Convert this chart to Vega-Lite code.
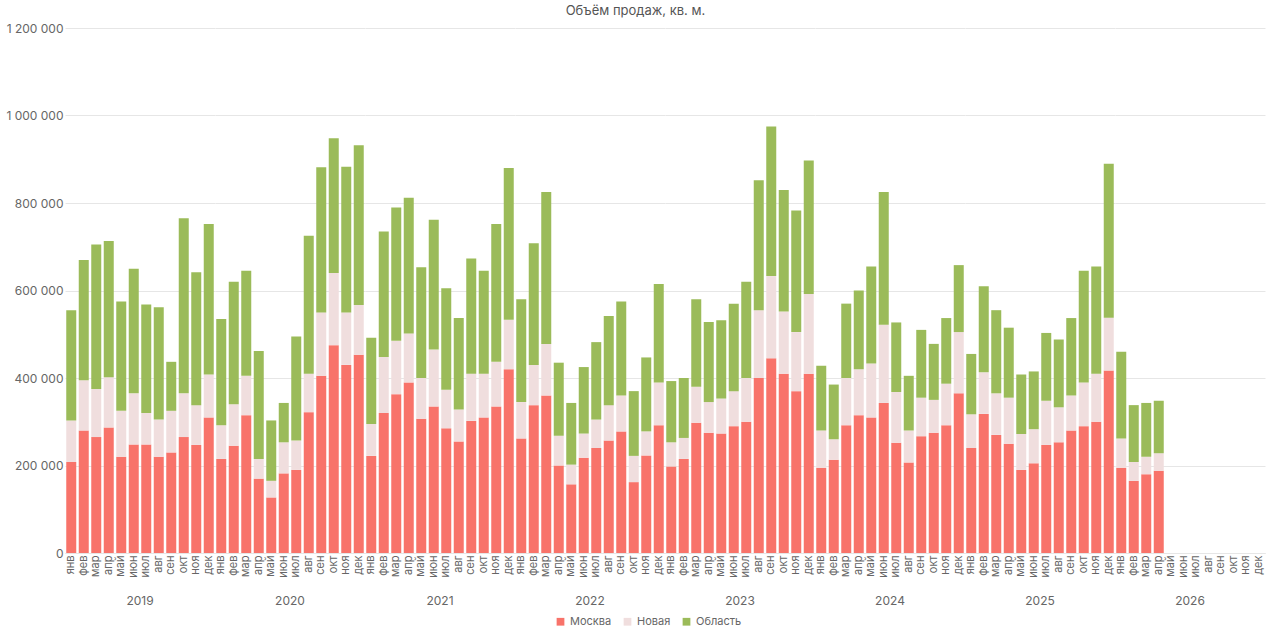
{
  "$schema": "https://vega.github.io/schema/vega-lite/v6.json",
  "title": {"text": "Объём продаж, кв. м.", "anchor": "middle", "fontSize": 13, "fontWeight": "normal", "color": "#555", "font": "Inter"},
  "config": {"font": "Inter", "view": {"stroke": null}},
  "data": {"values": [
    {"year": 2019, "m": "янв", "Москва": 208000, "Новая": 95000, "Область": 252000},
    {"year": 2019, "m": "фев", "Москва": 280000, "Новая": 115000, "Область": 275000},
    {"year": 2019, "m": "мар", "Москва": 265000, "Новая": 110000, "Область": 330000},
    {"year": 2019, "m": "апр", "Москва": 287000, "Новая": 115000, "Область": 311000},
    {"year": 2019, "m": "май", "Москва": 220000, "Новая": 105000, "Область": 250000},
    {"year": 2019, "m": "июн", "Москва": 248000, "Новая": 117000, "Область": 285000},
    {"year": 2019, "m": "июл", "Москва": 248000, "Новая": 72000, "Область": 248000},
    {"year": 2019, "m": "авг", "Москва": 220000, "Новая": 85000, "Область": 257000},
    {"year": 2019, "m": "сен", "Москва": 230000, "Новая": 95000, "Область": 112000},
    {"year": 2019, "m": "окт", "Москва": 265000, "Новая": 100000, "Область": 400000},
    {"year": 2019, "m": "ноя", "Москва": 247000, "Новая": 91000, "Область": 304000},
    {"year": 2019, "m": "дек", "Москва": 310000, "Новая": 98000, "Область": 344000},
    {"year": 2020, "m": "янв", "Москва": 215000, "Новая": 77000, "Область": 243000},
    {"year": 2020, "m": "фев", "Москва": 245000, "Новая": 95000, "Область": 280000},
    {"year": 2020, "m": "мар", "Москва": 315000, "Новая": 90000, "Область": 240000},
    {"year": 2020, "m": "апр", "Москва": 170000, "Новая": 45000, "Область": 247000},
    {"year": 2020, "m": "май", "Москва": 127000, "Новая": 38000, "Область": 138000},
    {"year": 2020, "m": "июн", "Москва": 182000, "Новая": 71000, "Область": 90000},
    {"year": 2020, "m": "июл", "Москва": 190000, "Новая": 67000, "Область": 238000},
    {"year": 2020, "m": "авг", "Москва": 322000, "Новая": 88000, "Область": 315000},
    {"year": 2020, "m": "сен", "Москва": 405000, "Новая": 145000, "Область": 332000},
    {"year": 2020, "m": "окт", "Москва": 475000, "Новая": 165000, "Область": 308000},
    {"year": 2020, "m": "ноя", "Москва": 430000, "Новая": 120000, "Область": 333000},
    {"year": 2020, "m": "дек", "Москва": 453000, "Новая": 114000, "Область": 365000},
    {"year": 2021, "m": "янв", "Москва": 222000, "Новая": 73000, "Область": 197000},
    {"year": 2021, "m": "фев", "Москва": 320000, "Новая": 128000, "Область": 287000},
    {"year": 2021, "m": "мар", "Москва": 363000, "Новая": 122000, "Область": 305000},
    {"year": 2021, "m": "апр", "Москва": 390000, "Новая": 112000, "Область": 310000},
    {"year": 2021, "m": "май", "Москва": 307000, "Новая": 93000, "Область": 253000},
    {"year": 2021, "m": "июн", "Москва": 335000, "Новая": 130000, "Область": 297000},
    {"year": 2021, "m": "июл", "Москва": 285000, "Новая": 88000, "Область": 232000},
    {"year": 2021, "m": "авг", "Москва": 255000, "Новая": 73000, "Область": 209000},
    {"year": 2021, "m": "сен", "Москва": 302000, "Новая": 108000, "Область": 263000},
    {"year": 2021, "m": "окт", "Москва": 310000, "Новая": 100000, "Область": 235000},
    {"year": 2021, "m": "ноя", "Москва": 335000, "Новая": 102000, "Область": 315000},
    {"year": 2021, "m": "дек", "Москва": 420000, "Новая": 113000, "Область": 347000},
    {"year": 2022, "m": "янв", "Москва": 262000, "Новая": 83000, "Область": 235000},
    {"year": 2022, "m": "фев", "Москва": 338000, "Новая": 92000, "Область": 278000},
    {"year": 2022, "m": "мар", "Москва": 360000, "Новая": 118000, "Область": 347000},
    {"year": 2022, "m": "апр", "Москва": 200000, "Новая": 68000, "Область": 167000},
    {"year": 2022, "m": "май", "Москва": 157000, "Новая": 45000, "Область": 141000},
    {"year": 2022, "m": "июн", "Москва": 218000, "Новая": 55000, "Область": 152000},
    {"year": 2022, "m": "июл", "Москва": 240000, "Новая": 65000, "Область": 177000},
    {"year": 2022, "m": "авг", "Москва": 257000, "Новая": 81000, "Область": 204000},
    {"year": 2022, "m": "сен", "Москва": 278000, "Новая": 82000, "Область": 215000},
    {"year": 2022, "m": "окт", "Москва": 162000, "Новая": 60000, "Область": 148000},
    {"year": 2022, "m": "ноя", "Москва": 223000, "Новая": 55000, "Область": 169000},
    {"year": 2022, "m": "дек", "Москва": 292000, "Новая": 98000, "Область": 225000},
    {"year": 2023, "m": "янв", "Москва": 198000, "Новая": 55000, "Область": 140000},
    {"year": 2023, "m": "фев", "Москва": 215000, "Новая": 48000, "Область": 137000},
    {"year": 2023, "m": "мар", "Москва": 298000, "Новая": 82000, "Область": 200000},
    {"year": 2023, "m": "апр", "Москва": 275000, "Новая": 70000, "Область": 183000},
    {"year": 2023, "m": "май", "Москва": 273000, "Новая": 80000, "Область": 179000},
    {"year": 2023, "m": "июн", "Москва": 290000, "Новая": 80000, "Область": 200000},
    {"year": 2023, "m": "июл", "Москва": 300000, "Новая": 100000, "Область": 220000},
    {"year": 2023, "m": "авг", "Москва": 400000, "Новая": 155000, "Область": 297000},
    {"year": 2023, "m": "сен", "Москва": 445000, "Новая": 188000, "Область": 342000},
    {"year": 2023, "m": "окт", "Москва": 410000, "Новая": 142000, "Область": 278000},
    {"year": 2023, "m": "ноя", "Москва": 370000, "Новая": 135000, "Область": 278000},
    {"year": 2023, "m": "дек", "Москва": 410000, "Новая": 182000, "Область": 305000},
    {"year": 2024, "m": "янв", "Москва": 195000, "Новая": 85000, "Область": 148000},
    {"year": 2024, "m": "фев", "Москва": 213000, "Новая": 47000, "Область": 125000},
    {"year": 2024, "m": "мар", "Москва": 292000, "Новая": 108000, "Область": 170000},
    {"year": 2024, "m": "апр", "Москва": 315000, "Новая": 105000, "Область": 180000},
    {"year": 2024, "m": "май", "Москва": 310000, "Новая": 123000, "Область": 222000},
    {"year": 2024, "m": "июн", "Москва": 343000, "Новая": 179000, "Область": 303000},
    {"year": 2024, "m": "июл", "Москва": 252000, "Новая": 116000, "Область": 159000},
    {"year": 2024, "m": "авг", "Москва": 207000, "Новая": 73000, "Область": 125000},
    {"year": 2024, "m": "сен", "Москва": 267000, "Новая": 88000, "Область": 155000},
    {"year": 2024, "m": "окт", "Москва": 275000, "Новая": 75000, "Область": 128000},
    {"year": 2024, "m": "ноя", "Москва": 292000, "Новая": 95000, "Область": 150000},
    {"year": 2024, "m": "дек", "Москва": 365000, "Новая": 140000, "Область": 153000},
    {"year": 2025, "m": "янв", "Москва": 240000, "Новая": 77000, "Область": 138000},
    {"year": 2025, "m": "фев", "Москва": 318000, "Новая": 95000, "Область": 197000},
    {"year": 2025, "m": "мар", "Москва": 270000, "Новая": 95000, "Область": 190000},
    {"year": 2025, "m": "апр", "Москва": 250000, "Новая": 105000, "Область": 160000},
    {"year": 2025, "m": "май", "Москва": 190000, "Новая": 82000, "Область": 136000},
    {"year": 2025, "m": "июн", "Москва": 205000, "Новая": 78000, "Область": 132000},
    {"year": 2025, "m": "июл", "Москва": 247000, "Новая": 101000, "Область": 155000},
    {"year": 2025, "m": "авг", "Москва": 253000, "Новая": 80000, "Область": 155000},
    {"year": 2025, "m": "сен", "Москва": 280000, "Новая": 80000, "Область": 177000},
    {"year": 2025, "m": "окт", "Москва": 290000, "Новая": 100000, "Область": 255000},
    {"year": 2025, "m": "ноя", "Москва": 300000, "Новая": 110000, "Область": 245000},
    {"year": 2025, "m": "дек", "Москва": 417000, "Новая": 121000, "Область": 352000},
    {"year": 2026, "m": "янв", "Москва": 195000, "Новая": 67000, "Область": 198000},
    {"year": 2026, "m": "фев", "Москва": 165000, "Новая": 43000, "Область": 130000},
    {"year": 2026, "m": "мар", "Москва": 180000, "Новая": 40000, "Область": 123000},
    {"year": 2026, "m": "апр", "Москва": 188000, "Новая": 40000, "Область": 120000}
  ]},
  "transform": [{"fold": ["Москва", "Новая", "Область"], "as": ["region", "value"]}],
  "facet": {
    "column": {
      "field": "year", "type": "ordinal", "title": null,
      "header": {"labelOrient": "bottom", "labelColor": "#666", "labelFontSize": 12, "labelPadding": 19}
    }
  },
  "spacing": 0,
  "spec": {
    "width": 150,
    "height": 525,
    "mark": {"type": "bar", "width": 10},
    "encoding": {
      "x": {
        "field": "m", "type": "ordinal", "title": null,
        "scale": {"domain": ["янв", "фев", "мар", "апр", "май", "июн", "июл", "авг", "сен", "окт", "ноя", "дек"]},
        "axis": {"labelAngle": 270, "labelColor": "#666", "labelFontSize": 11, "ticks": false, "domainColor": "#ddd", "labelBaseline": "middle", "labelAlign": "right"}
      },
      "y": {
        "field": "value", "type": "quantitative", "aggregate": "sum", "title": null,
        "scale": {"domain": [0, 1200000]},
        "axis": {"tickCount": 6, "domain": false, "ticks": false, "gridColor": "#e6e6e6", "labelColor": "#666", "labelFontSize": 12,
                 "labelExpr": "replace(format(datum.value, ','), /,/g, ' ')"}
      },
      "order": {"field": "region", "sort": "ascending"},
      "color": {
        "field": "region", "type": "nominal", "title": null,
        "scale": {"domain": ["Москва", "Новая", "Область"], "range": ["#f8736a", "#f0dede", "#9bbb59"]},
        "legend": {"orient": "none", "legendX": 490, "legendY": 588, "direction": "horizontal", "symbolType": "square", "labelColor": "#666", "labelFontSize": 11, "symbolSize": 60}
      }
    }
  }
}
